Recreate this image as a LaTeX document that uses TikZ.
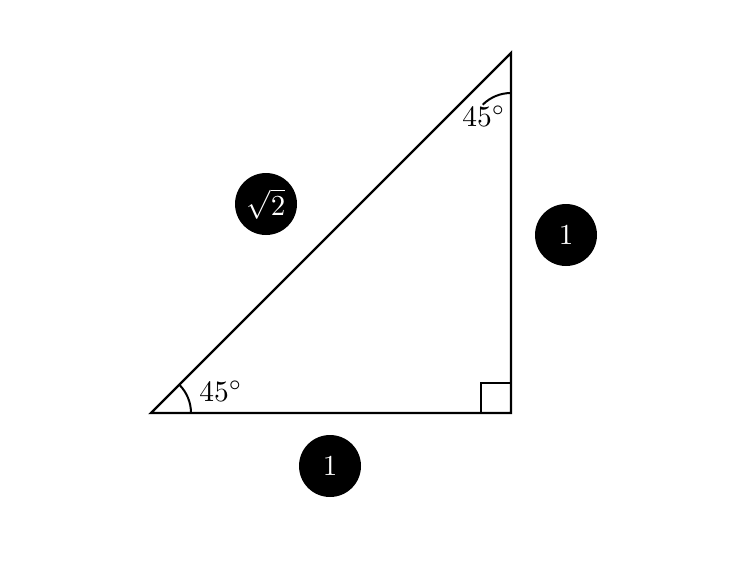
\documentclass[tikz,border=0pt]{standalone}
\usepackage{graphicx}
\begin{document}
\begin{tikzpicture}[x=1pt,y=-1pt,
  edge/.style={line width=2.4pt,line join=miter},
  thin/.style={line width=2pt},
  lbl/.style={inner sep=0pt},
  badge/.style={circle,fill=black,text=white,minimum size=62pt,inner sep=0pt}]
\useasboundingbox (0,0) rectangle (750,563);
\coordinate (A) at (151,413);
\coordinate (B) at (511,413);
\coordinate (C) at (511,53);
\draw[edge] (A) -- (B) -- (C) -- cycle;
\draw[thin] (481,413) -- (481,383) -- (511,383);
\draw[thin] (191,413) arc[start angle=0,end angle=-45,radius=40];
\draw[thin] (511,93) arc[start angle=270,end angle=225,radius=40];
\node[lbl] (a1) at (221,391) {\scalebox{2.95}{$45^\circ$}};
\node[lbl] (a2) at (484,116) {\scalebox{2.95}{$45^\circ$}};
\node[badge] (h) at (266,204) {\scalebox{2.9}{$\sqrt{2}$}};
\node[badge] (v) at (566,235) {\scalebox{2.9}{$1$}};
\node[badge] (b) at (330,466) {\scalebox{2.9}{$1$}};
\end{tikzpicture}
\end{document}
